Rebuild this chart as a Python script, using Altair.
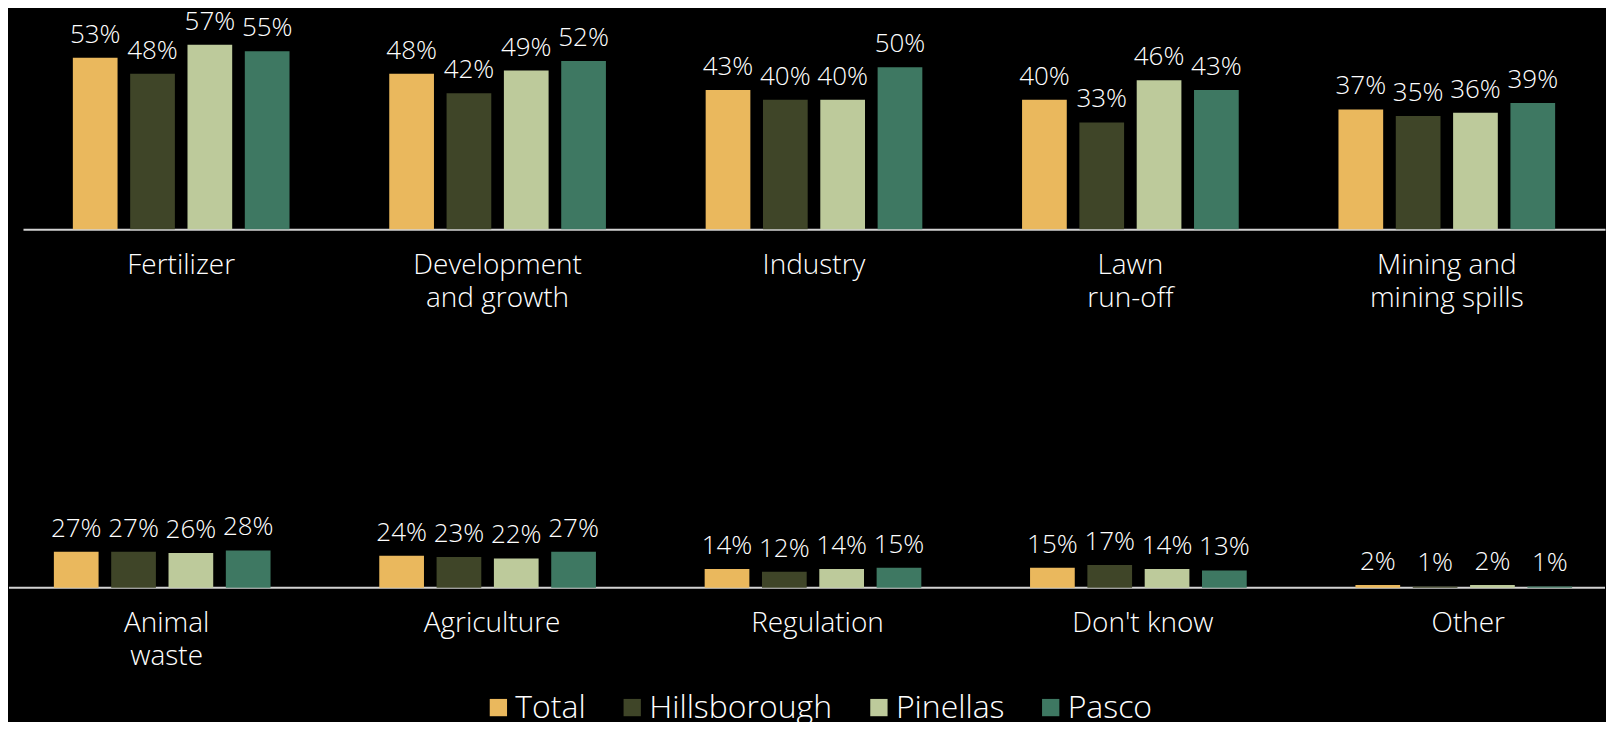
import altair as alt
import pandas as pd

series = ["Total", "Hillsborough", "Pinellas", "Pasco"]
colors = ["#EAB85D", "#3F4528", "#BDCA9B", "#3E7862"]

top_categories = ["Fertilizer", "Development and growth", "Industry", "Lawn run-off", "Mining and mining spills"]
top_total = [53, 48, 43, 40, 37]
top_hills = [48, 42, 40, 33, 35]
top_pin = [57, 49, 40, 46, 36]
top_pasco = [55, 52, 50, 43, 39]

bottom_categories = ["Animal waste", "Agriculture", "Regulation", "Don't know", "Other"]
bottom_total = [27, 24, 14, 15, 2]
bottom_hills = [27, 23, 12, 17, 1]
bottom_pin = [26, 22, 14, 14, 2]
bottom_pasco = [28, 27, 15, 13, 1]

label_lines = {
    "Development and growth": ["Development", "and growth"],
    "Lawn run-off": ["Lawn", "run-off"],
    "Mining and mining spills": ["Mining and", "mining spills"],
    "Animal waste": ["Animal", "waste"],
}

FONT = "Open Sans"
W = 1598
LEGEND_Y = 683


def label_expr():
    expr = "datum.label"
    for k, lines in label_lines.items():
        arr = "[" + ",".join("'" + l + "'" for l in lines) + "]"
        expr = f"datum.value == '{k}' ? {arr} : ({expr})"
    return expr


def make_df(cats, cols):
    rows = []
    for i, c in enumerate(cats):
        for s, vals in zip(series, cols):
            rows.append({"category": c, "series": s, "value": vals[i], "label": f"{vals[i]}%"})
    return pd.DataFrame(rows)


legend = alt.Legend(title=None, orient="none", direction="horizontal",
                    legendX=474, legendY=LEGEND_Y, padding=0,
                    symbolType="square", symbolSize=300, symbolStrokeWidth=0,
                    labelFont=FONT, labelFontSize=32, labelFontWeight=300,
                    labelColor="white", labelOffset=1, columnPadding=30, labelLimit=400)


def layers_for(df, cats, xscale, axis, inner_outer, ymax):
    x = alt.X("category:N", sort=cats, scale=xscale, axis=axis)
    xo = alt.XOffset("series:N", sort=series,
                     scale=alt.Scale(paddingInner=0.22, paddingOuter=inner_outer))
    y = alt.Y("value:Q", scale=alt.Scale(domain=[0, ymax]), axis=None)
    bars = alt.Chart(df).mark_bar().encode(
        x=x, xOffset=xo, y=y,
        color=alt.Color("series:N", sort=series,
                        scale=alt.Scale(domain=series, range=colors), legend=legend))
    text = alt.Chart(df).mark_text(dy=-15, baseline="alphabetic", align="center",
                                   font=FONT, fontSize=26, fontWeight=300, color="white").encode(
        x=x, xOffset=xo, y=y, text="label:N")
    return [bars, text]


# top row: regular band axis
top_df = make_df(top_categories, [top_total, top_hills, top_pin, top_pasco])
top_axis = alt.Axis(title=None, labelAngle=0, ticks=False, tickSize=0,
                    domainColor="#D2D2D2", domainWidth=2,
                    labelFont=FONT, labelFontSize=28, labelFontWeight=300,
                    labelColor="white", labelPadding=22, labelLineHeight=33,
                    labelLimit=400, labelExpr=label_expr())
top = alt.layer(*layers_for(top_df, top_categories,
                            alt.Scale(range=[14, W], paddingInner=0, paddingOuter=0),
                            top_axis, 0.87, 67.9)).properties(width=W, height=220)

# bottom row: wider band spacing, category names drawn as text
BH = 120
bot_df = make_df(bottom_categories, [bottom_total, bottom_hills, bottom_pin, bottom_pasco])
bot_scale = alt.Scale(range=[-5, 1624], paddingInner=0, paddingOuter=0)
bot_layers = layers_for(bot_df, bottom_categories, bot_scale, None, 0.8, 90)
cat_df = pd.DataFrame({"category": bottom_categories,
                       "name": ["\n".join(label_lines.get(c, [c])) for c in bottom_categories]})
cat_text = alt.Chart(cat_df).mark_text(baseline="alphabetic", align="center", lineBreak="\n",
                                       lineHeight=33, font=FONT, fontSize=28, fontWeight=300,
                                       color="white").encode(
    x=alt.X("category:N", sort=bottom_categories, scale=bot_scale, axis=None),
    y=alt.value(BH + 44), text="name:N")
base_rule = alt.Chart(pd.DataFrame({"v": [0]})).mark_rule(color="#D2D2D2", strokeWidth=2).encode(
    y=alt.Y("v:Q", scale=alt.Scale(domain=[0, 90]), axis=None),
    x=alt.value(0), x2=alt.value(W))
bottom = alt.layer(base_rule, *bot_layers, cat_text).properties(width=W, height=BH)


def build(pad):
    return alt.vconcat(top, bottom, spacing=239, bounds="flush").properties(
        background="black", padding=pad
    ).configure_view(stroke=None)


try:
    chart = build({"left": 0, "top": 0, "right": 0, "bottom": -2})
    chart.to_dict()
except Exception:
    chart = build(0)

chart.save("out.html", embed_options={"renderer": "svg", "actions": False})
